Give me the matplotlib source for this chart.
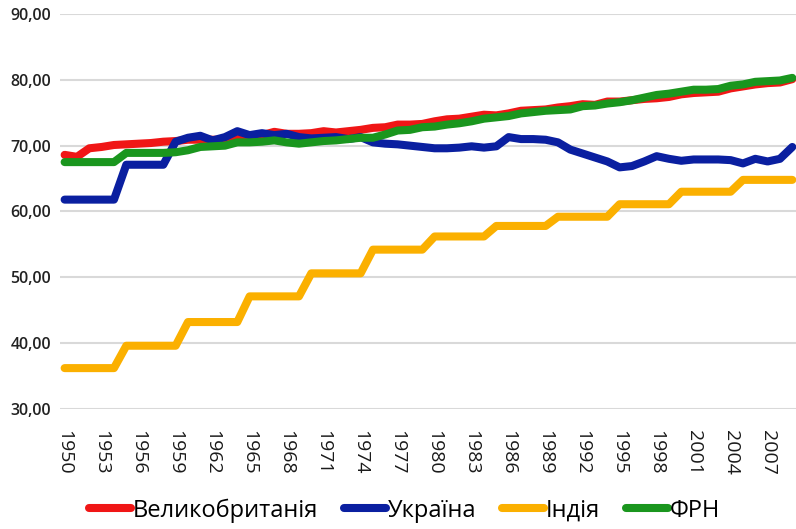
import numpy as np
import matplotlib.pyplot as plt

# Data
years = np.arange(1950, 2010)
uk = [68.6, 68.3, 69.6, 69.8, 70.1, 70.2, 70.3, 70.4, 70.6, 70.7,
      70.9, 70.9, 70.9, 70.9, 71.4, 71.5, 71.6, 72.1, 71.8, 71.8,
      71.9, 72.2, 72.0, 72.2, 72.4, 72.7, 72.8, 73.2, 73.2, 73.3,
      73.7, 74.0, 74.1, 74.4, 74.7, 74.6, 74.9, 75.3, 75.4, 75.5,
      75.8, 76.0, 76.3, 76.2, 76.7, 76.7, 76.9, 77.1, 77.2, 77.4,
      77.8, 78.0, 78.1, 78.2, 78.7, 79.0, 79.3, 79.5, 79.6, 80.1]
ukraine = [61.8, 61.8, 61.8, 61.8, 61.8, 67.1, 67.1, 67.1, 67.1, 70.6,
           71.2, 71.5, 70.8, 71.3, 72.2, 71.6, 71.9, 71.6, 71.8, 71.3,
           71.1, 71.2, 71.3, 71.0, 71.3, 70.5, 70.3, 70.2, 70.0, 69.8,
           69.6, 69.6, 69.7, 69.9, 69.7, 69.9, 71.3, 71.0, 71.0, 70.9,
           70.5, 69.4, 68.8, 68.2, 67.6, 66.7, 66.9, 67.6, 68.4, 68.0,
           67.7, 67.9, 67.9, 67.9, 67.8, 67.3, 68.0, 67.6, 68.0, 69.8]
india = [36.2] * 5 + [39.6] * 5 + [43.2] * 5 + [47.1] * 5 + [50.6] * 5 + [54.2] * 5 + \
        [56.2] * 5 + [57.8] * 5 + [59.2] * 5 + [61.1] * 5 + [63.0] * 5 + [64.8] * 5
frg = [67.5, 67.5, 67.5, 67.5, 67.5, 68.9, 68.9, 68.9, 68.9, 69.0,
       69.3, 69.8, 69.9, 70.0, 70.5, 70.5, 70.6, 70.8, 70.5, 70.3,
       70.5, 70.7, 70.8, 71.0, 71.2, 71.2, 71.7, 72.3, 72.4, 72.8,
       72.9, 73.2, 73.4, 73.7, 74.1, 74.3, 74.5, 74.9, 75.1, 75.3,
       75.4, 75.5, 76.0, 76.1, 76.4, 76.6, 76.9, 77.3, 77.7, 77.9,
       78.2, 78.5, 78.5, 78.6, 79.1, 79.3, 79.7, 79.8, 79.9, 80.3]

labels = ["Великобританія", "Україна", "Індія", "ФРН"]
colors = ["#f01616", "#0a1fa0", "#fbb000", "#1a961e"]

fig = plt.figure(figsize=(7.96, 5.29), dpi=100)
ax = fig.add_axes([0.075, 0.227, 0.925, 0.7465])

for series, lab, col in zip([uk, ukraine, india, frg], labels, colors):
    ax.plot(years, series, color=col, lw=5.8, label=lab,
            solid_joinstyle="round", solid_capstyle="round")

ax.set_xlim(1949.6, 2009.3)
ax.set_ylim(30, 90)
ax.set_yticks(np.arange(30, 91, 10))
ax.set_yticklabels([f"{v:.2f}".replace(".", ",") for v in np.arange(30, 91, 10)],
                   fontsize=11.5, color="#222222", family="Open Sans", fontweight="semibold")
ax.set_xticks(years[::3])
ax.set_xticklabels([str(y) for y in years[::3]], rotation=-90, fontsize=14,
                   family="Open Sans", color="#1a1a1a")
ax.tick_params(axis="x", length=0, pad=15)
ax.tick_params(axis="y", length=0, pad=6)
ax.grid(axis="y", color="#d9d9d9", lw=1.5)
ax.set_axisbelow(True)
for s in ax.spines.values():
    s.set_visible(False)

fig.legend(loc="lower center", bbox_to_anchor=(0.508, -0.028), ncol=4, frameon=False,
           prop={"family": "Open Sans", "size": 17}, handlelength=1.8,
           handletextpad=0.05, columnspacing=1.1)

fig.savefig("out.png", dpi=100)
